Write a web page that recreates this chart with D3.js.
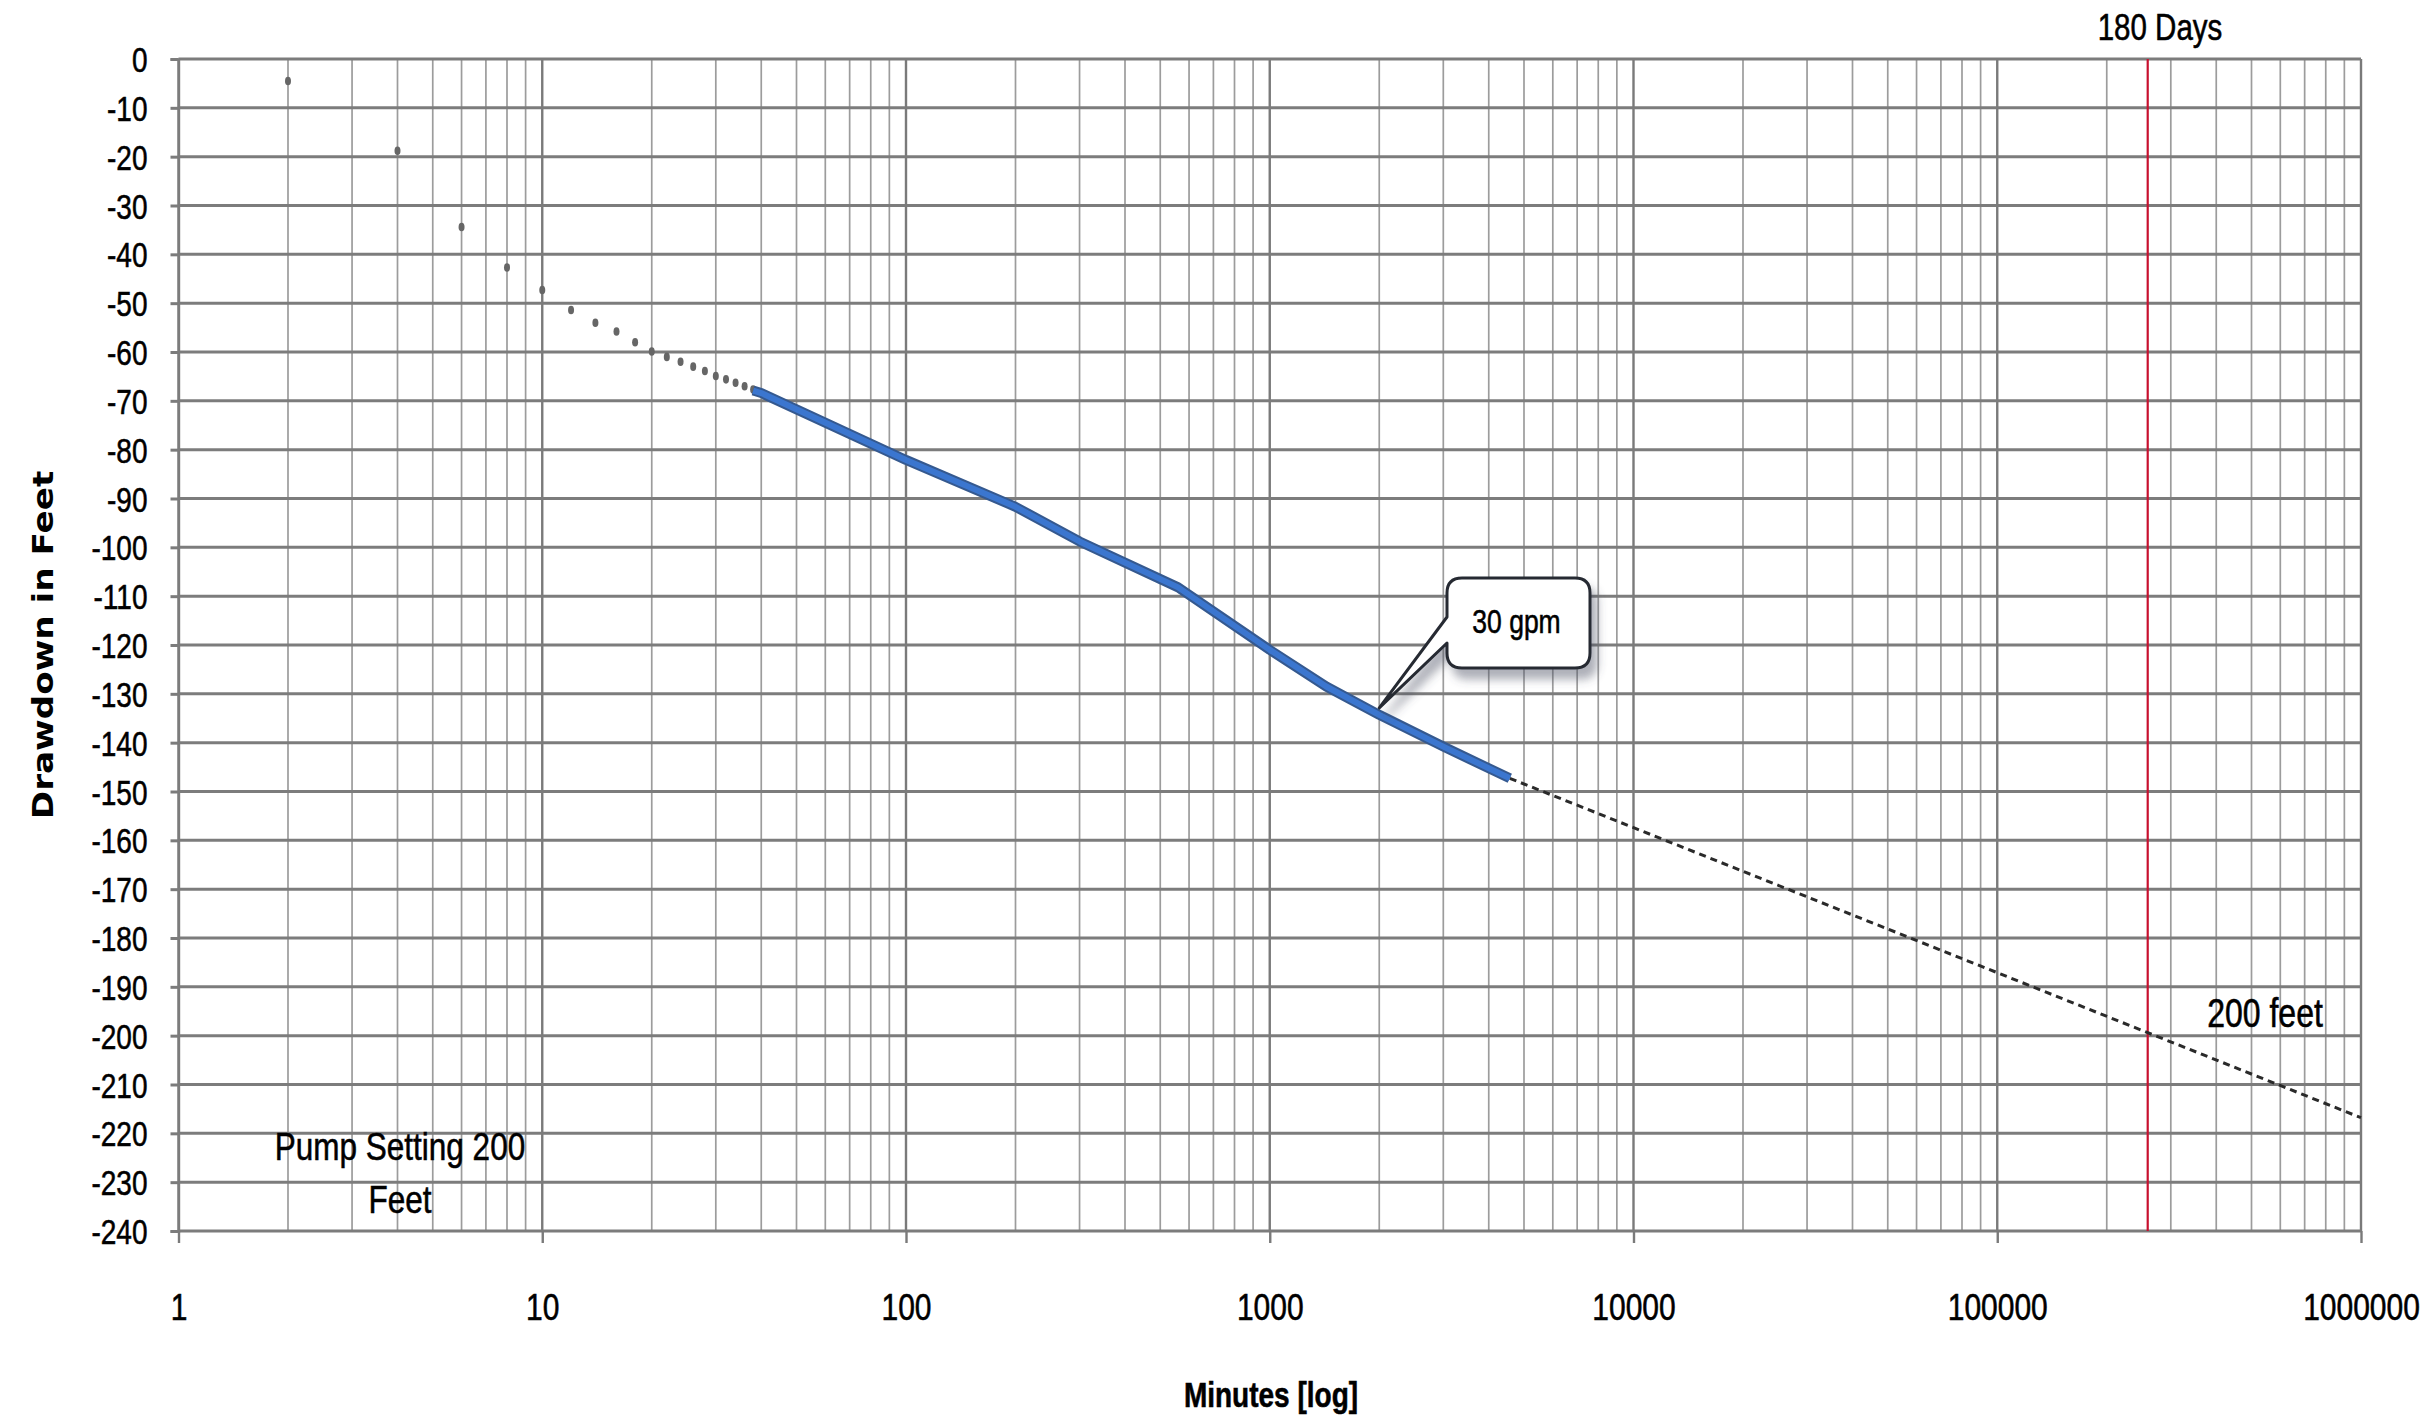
<!DOCTYPE html>
<html>
<head>
<meta charset="utf-8">
<script src="https://cdn.jsdelivr.net/npm/d3@7"></script>
<style>
  body { margin: 0; background: #fff; }
  svg { display: block; }
</style>
</head>
<body>
<svg id="chart" width="2434" height="1420"></svg>
<script>
// Early readings, one every two minutes (drawn as small gray markers)
const earlyMinutes  = [2, 4, 6, 8, 10, 12, 14, 16, 18, 20, 22, 24, 26, 28, 30, 32, 34, 36, 38];
const earlyDrawdown = [-4.5, -18.8, -34.4, -42.7, -47.3, -51.4, -54.0, -55.8, -58.0, -59.9,
                       -61.0, -62.0, -63.0, -63.9, -64.9, -65.6, -66.3, -67.0, -67.7];

// Pumping test record at 30 gpm (thick blue curve)
const pumpMinutes  = [38, 40, 100, 200, 300, 560, 1000, 1430, 2000, 3000, 4570];
const pumpDrawdown = [-67.9, -68.4, -82.1, -91.7, -98.8, -108.2, -121.0, -128.5, -134.3, -140.8, -147.3];

// Logarithmic trend projected to one million minutes (dashed black)
const trendMinutes  = [4570, 1000000];
const trendDrawdown = [-147.3, -216.8];

// Axis ticks
const xTickValues = [1, 10, 100, 1000, 10000, 100000, 1000000];
const yTickValues = [0, -10, -20, -30, -40, -50, -60, -70, -80, -90, -100, -110, -120,
                     -130, -140, -150, -160, -170, -180, -190, -200, -210, -220, -230, -240];

// 180-day reference (in minutes)
const referenceDays = 180;
const minutesPerDay = 1440;
const referenceMinutes = referenceDays * minutesPerDay;

// Text labels
const xAxisTitle = "Minutes [log]";
const yAxisTitle = "Drawdown in Feet";
const daysLabel = "180 Days";
const depthLabel = "200 feet";
const pumpLabelLines = ["Pump Setting 200", "Feet"];
const calloutLabel = "30 gpm";
const calloutMinute = 2000;

// ---------------------------------------------------------------
const K = 1.25;            // vertical stretch applied to horizontal text
const FONT = "'Liberation Sans', Arial, sans-serif";
const INK = 0.45;          // faint outline that thickens the glyphs a little

const svg = d3.select("#chart");
const plot = { left: 178.5, right: 2361, top: 59, bottom: 1231 };

const x = d3.scaleLog().domain([1, 1000000]).range([plot.left, plot.right]);
const y = d3.scaleLinear().domain([0, -240]).range([plot.top, plot.bottom]);

// Drop shadow for the callout
const defs = svg.append("defs");
const shadow = defs.append("filter").attr("id", "calloutShadow")
  .attr("x", "-20%").attr("y", "-20%").attr("width", "150%").attr("height", "160%");
shadow.append("feDropShadow")
  .attr("dx", 6).attr("dy", 10).attr("stdDeviation", 5)
  .attr("flood-color", "#4a5060").attr("flood-opacity", 0.45);

// Helper for stretched horizontal text
function label(parent, px, py, str, opt) {
  const g = parent.append("g").attr("transform", `translate(${px},${py}) scale(1,${K})`);
  return g.append("text")
    .attr("text-anchor", opt.anchor || "middle")
    .attr("font-family", opt.family || FONT)
    .attr("font-size", opt.size)
    .attr("font-weight", opt.weight || "normal")
    .attr("fill", "#000")
    .attr("stroke", "#000").attr("stroke-width", INK)
    .text(str);
}

// ---------- gridlines ----------
const grid = svg.append("g");
const minorX = [];
for (let d = 1; d < 1000000; d *= 10) {
  for (let m = 2; m <= 9; m++) minorX.push(d * m);
}
grid.selectAll("line.minor").data(minorX).join("line")
  .attr("x1", d => x(d)).attr("x2", d => x(d))
  .attr("y1", plot.top).attr("y2", plot.bottom)
  .attr("stroke", "#9c9c9c").attr("stroke-width", 1.7);

grid.selectAll("line.majorx").data(xTickValues).join("line")
  .attr("x1", d => x(d)).attr("x2", d => x(d))
  .attr("y1", plot.top).attr("y2", plot.bottom)
  .attr("stroke", "#7a7a7a").attr("stroke-width", 2.4);

grid.selectAll("line.majory").data(yTickValues).join("line")
  .attr("x1", plot.left).attr("x2", plot.right)
  .attr("y1", d => y(d)).attr("y2", d => y(d))
  .attr("stroke", "#7c7c7c").attr("stroke-width", 3);

// ---------- axes ----------
const yAxis = svg.append("g")
  .attr("transform", `translate(${plot.left},0)`)
  .call(d3.axisLeft(y).tickValues(yTickValues).tickSize(8).tickPadding(0).tickFormat(d3.format("d")));
yAxis.select(".domain").attr("stroke", "#7c7c7c").attr("stroke-width", 2.4);
yAxis.selectAll(".tick line").attr("stroke", "#7c7c7c").attr("stroke-width", 3);
yAxis.selectAll(".tick text")
  .attr("font-family", FONT).attr("font-size", 28).attr("fill", "#000")
  .attr("stroke", "#000").attr("stroke-width", INK)
  .attr("x", -31).attr("dy", 0).attr("y", 0.358 * 28)
  .attr("transform", `scale(1,${K})`)
  .text(d => d === 0 ? "0" : "-" + Math.abs(d));

const xAxis = svg.append("g")
  .attr("transform", `translate(0,${plot.bottom})`)
  .call(d3.axisBottom(x).tickValues(xTickValues).tickSize(12).tickFormat(d3.format("d")));
xAxis.select(".domain").remove();
xAxis.selectAll(".tick line").attr("stroke", "#7a7a7a").attr("stroke-width", 2.4);
xAxis.selectAll(".tick text")
  .attr("font-family", FONT).attr("font-size", 30).attr("fill", "#000")
  .attr("stroke", "#000").attr("stroke-width", INK)
  .attr("dy", 0).attr("y", 89 / K)
  .attr("transform", `scale(1,${K})`);

// ---------- 180 day line ----------
svg.append("line")
  .attr("x1", x(referenceMinutes)).attr("x2", x(referenceMinutes))
  .attr("y1", plot.top).attr("y2", plot.bottom)
  .attr("stroke", "#c8102e").attr("stroke-width", 2.2);

// ---------- series ----------
const line = d3.line().x(d => x(d[0])).y(d => y(d[1]));

// trend (dashed)
const trendPts = trendMinutes.map((m, i) => [m, trendDrawdown[i]]);
svg.append("path").attr("d", line(trendPts))
  .attr("fill", "none").attr("stroke", "#2a2a2a")
  .attr("stroke-width", 3).attr("stroke-dasharray", "7,5");

// early readings
svg.append("g").selectAll("ellipse").data(earlyMinutes.map((m, i) => [m, earlyDrawdown[i]]))
  .join("ellipse")
  .attr("cx", d => x(d[0])).attr("cy", d => y(d[1]))
  .attr("rx", 3).attr("ry", 4.3)
  .attr("fill", "#666");

// pumping record (thick blue)
const pumpPts = pumpMinutes.map((m, i) => [m, pumpDrawdown[i]]);
svg.append("path").attr("d", line(pumpPts))
  .attr("fill", "none").attr("stroke", "#35598f").attr("stroke-width", 10)
  .attr("stroke-linejoin", "round");
svg.append("path").attr("d", line(pumpPts))
  .attr("fill", "none").attr("stroke", "#3b76cf").attr("stroke-width", 6)
  .attr("stroke-linejoin", "round");

// ---------- callout ----------
const tipIdx = pumpMinutes.indexOf(calloutMinute);
const tipX = x(calloutMinute), tipY = y(pumpDrawdown[tipIdx]) - 7;
const bx0 = 1447, by0 = 578, bx1 = 1590, by1 = 668, r = 15;
const pTop = 617, pBot = 643;
const calloutPath =
  `M${bx0 + r},${by0} H${bx1 - r} Q${bx1},${by0} ${bx1},${by0 + r}` +
  ` V${by1 - r} Q${bx1},${by1} ${bx1 - r},${by1} H${bx0 + r}` +
  ` Q${bx0},${by1} ${bx0},${by1 - r} V${pBot} L${tipX},${tipY} L${bx0},${pTop}` +
  ` V${by0 + r} Q${bx0},${by0} ${bx0 + r},${by0} Z`;
svg.append("path").attr("d", calloutPath)
  .attr("fill", "#fff").attr("stroke", "#262a33").attr("stroke-width", 3)
  .attr("stroke-linejoin", "round")
  .attr("filter", "url(#calloutShadow)");
label(svg, (bx0 + bx1) / 2 - 2, 633, calloutLabel, { size: 26.5 });

// ---------- annotations ----------
label(svg, 2160, 40, daysLabel, { size: 29.5 });
label(svg, 2265, 1027, depthLabel, { size: 32 });
label(svg, 400, 1160, pumpLabelLines[0], { size: 31.5 });
label(svg, 400, 1213, pumpLabelLines[1], { size: 31.5 });

// ---------- axis titles ----------
label(svg, 1271, 1407, xAxisTitle, { size: 28, weight: "bold" });

svg.append("g")
  .attr("transform", `translate(43,645) scale(1,1.18) rotate(-90)`)
  .append("text")
  .attr("text-anchor", "middle")
  .attr("y", 0.36 * 29)
  .attr("font-family", "'DejaVu Sans', Verdana, sans-serif")
  .attr("font-weight", "bold")
  .attr("font-size", 29)
  .text(yAxisTitle);
</script>
</body>
</html>
